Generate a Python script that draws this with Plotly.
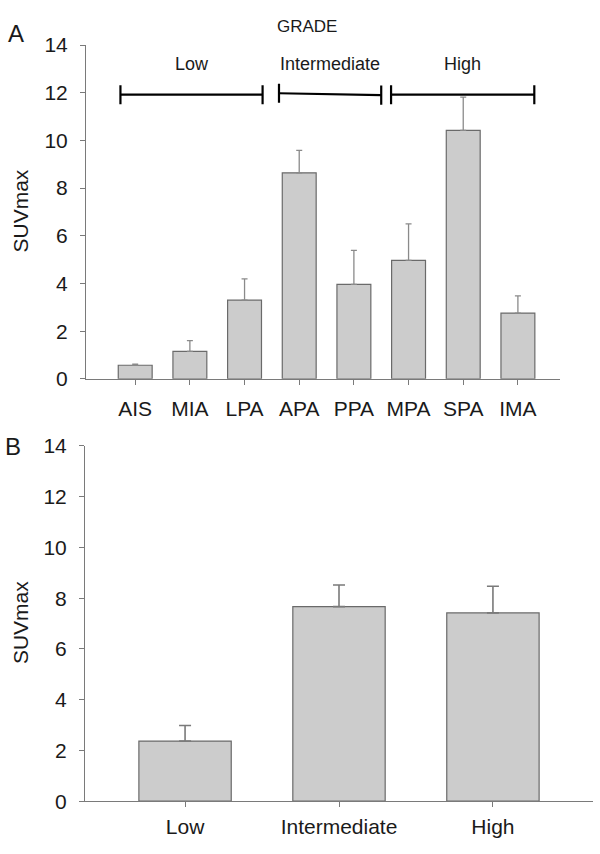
import plotly.graph_objects as go

# ---- Panel A data ----
subtypes = ["AIS", "MIA", "LPA", "APA", "PPA", "MPA", "SPA", "IMA"]
suv_a = [0.57, 1.15, 3.30, 8.64, 3.96, 4.97, 10.42, 2.76]
suv_a_upper = [0.62, 1.60, 4.19, 9.58, 5.39, 6.50, 11.82, 3.48]

# grade brackets over panel A (in category-index units)
grade_names = ["Low", "Intermediate", "High"]
bracket_start = [-0.27, 2.63, 4.68]
bracket_end = [2.33, 4.50, 7.30]
bracket_level_left = [11.92, 11.98, 11.92]
bracket_level_right = [11.92, 11.90, 11.92]

# ---- Panel B data ----
grades = ["Low", "Intermediate", "High"]
suv_b = [2.37, 7.67, 7.42]
suv_b_upper = [2.98, 8.52, 8.47]

yticks = [0, 2, 4, 6, 8, 10, 12, 14]

FONT = "Liberation Sans, Arial, sans-serif"
TXT = "#1a1a1a"
AX = "#7a7a7a"
BARFILL = "#cccccc"
BARLINE = "#6a6a6a"

fig = go.Figure()

xa = list(range(len(subtypes)))
fig.add_trace(go.Bar(
    x=xa, y=suv_a, width=0.62, xaxis="x", yaxis="y",
    marker=dict(color=BARFILL, line=dict(color=BARLINE, width=1.2)),
    error_y=dict(type="data", symmetric=False,
                 array=[u - v for u, v in zip(suv_a_upper, suv_a)],
                 arrayminus=[0] * len(suv_a),
                 color="#8a8a8a", thickness=1.3, width=3),
    showlegend=False, hoverinfo="skip",
))

# brackets
for s, e, yl, yr in zip(bracket_start, bracket_end, bracket_level_left, bracket_level_right):
    fig.add_trace(go.Scatter(x=[s, e], y=[yl, yr], mode="lines", xaxis="x", yaxis="y",
                             line=dict(color="black", width=2.2), showlegend=False, hoverinfo="skip"))
    for xx, yy in ((s, yl), (e, yr)):
        fig.add_trace(go.Scatter(x=[xx, xx], y=[yy - 0.4, yy + 0.4], mode="lines", xaxis="x", yaxis="y",
                                 line=dict(color="black", width=2.2), showlegend=False, hoverinfo="skip"))

xb = list(range(len(grades)))
fig.add_trace(go.Bar(
    x=xb, y=suv_b, width=0.6, xaxis="x2", yaxis="y2",
    marker=dict(color=BARFILL, line=dict(color=BARLINE, width=1.2)),
    error_y=dict(type="data", symmetric=False,
                 array=[u - v for u, v in zip(suv_b_upper, suv_b)],
                 arrayminus=[0] * len(suv_b),
                 color="#7a7a7a", thickness=1.6, width=6),
    showlegend=False, hoverinfo="skip",
))

common_y = dict(range=[0, 14], tickvals=yticks, showgrid=False, zeroline=False,
                showline=True, linecolor=AX, linewidth=1, ticks="outside", ticklen=5,
                tickcolor=AX, tickfont=dict(family=FONT, size=21, color=TXT),
                ticklabelstandoff=8)
common_x = dict(showgrid=False, zeroline=False, showline=True, linecolor=AX, linewidth=1,
                ticks="outside", ticklen=5, tickcolor=AX,
                tickfont=dict(family=FONT, size=21, color=TXT))

fig.update_layout(
    width=600, height=854,
    margin=dict(l=0, r=0, t=0, b=0),
    paper_bgcolor="white", plot_bgcolor="white",
    xaxis=dict(domain=[86 / 600, 560 / 600], range=[-0.9, 7.77], tickvals=xa, ticktext=subtypes,
               anchor="y", ticklabelstandoff=6, **common_x),
    yaxis=dict(domain=[1 - 377 / 854, 1 - 34 / 854], anchor="x", **common_y),
    xaxis2=dict(domain=[85 / 600, 593 / 600], range=[-0.65, 2.65], tickvals=xb, ticktext=grades,
                anchor="y2", ticklabelstandoff=2, **common_x),
    yaxis2=dict(domain=[1 - 811 / 854, 1 - 446 / 854], anchor="x2", **common_y),
)

ann = []
C = dict(showarrow=False, xanchor="center", yanchor="middle")
# bracket labels
for name, s, e in zip(grade_names, bracket_start, bracket_end):
    ann.append(dict(x=(s + e) / 2, y=13.2, xref="x", yref="y", text=name,
                    font=dict(family=FONT, size=18, color=TXT), **C))
ann.append(dict(x=307 / 600, y=1 - 15 / 854, xref="paper", yref="paper", text="GRADE",
                font=dict(family=FONT, size=17, color=TXT), **C))
ann.append(dict(x=16 / 600, y=1 - 22 / 854, xref="paper", yref="paper", text="A",
                font=dict(family=FONT, size=24, color=TXT), **C))
ann.append(dict(x=13 / 600, y=1 - 447 / 854, xref="paper", yref="paper", text="B",
                font=dict(family=FONT, size=24, color=TXT), **C))
ann.append(dict(x=20 / 600, y=1 - 205 / 854, xref="paper", yref="paper", text="SUVmax",
                textangle=-90, font=dict(family=FONT, size=21, color=TXT), **C))
ann.append(dict(x=20 / 600, y=1 - 628 / 854, xref="paper", yref="paper", text="SUVmax",
                textangle=-90, font=dict(family=FONT, size=21, color=TXT), **C))
fig.update_layout(annotations=ann)

fig.write_html("out.html", config={"displayModeBar": False},
               post_script="document.body.style.margin='0';document.body.style.overflow='hidden';")
